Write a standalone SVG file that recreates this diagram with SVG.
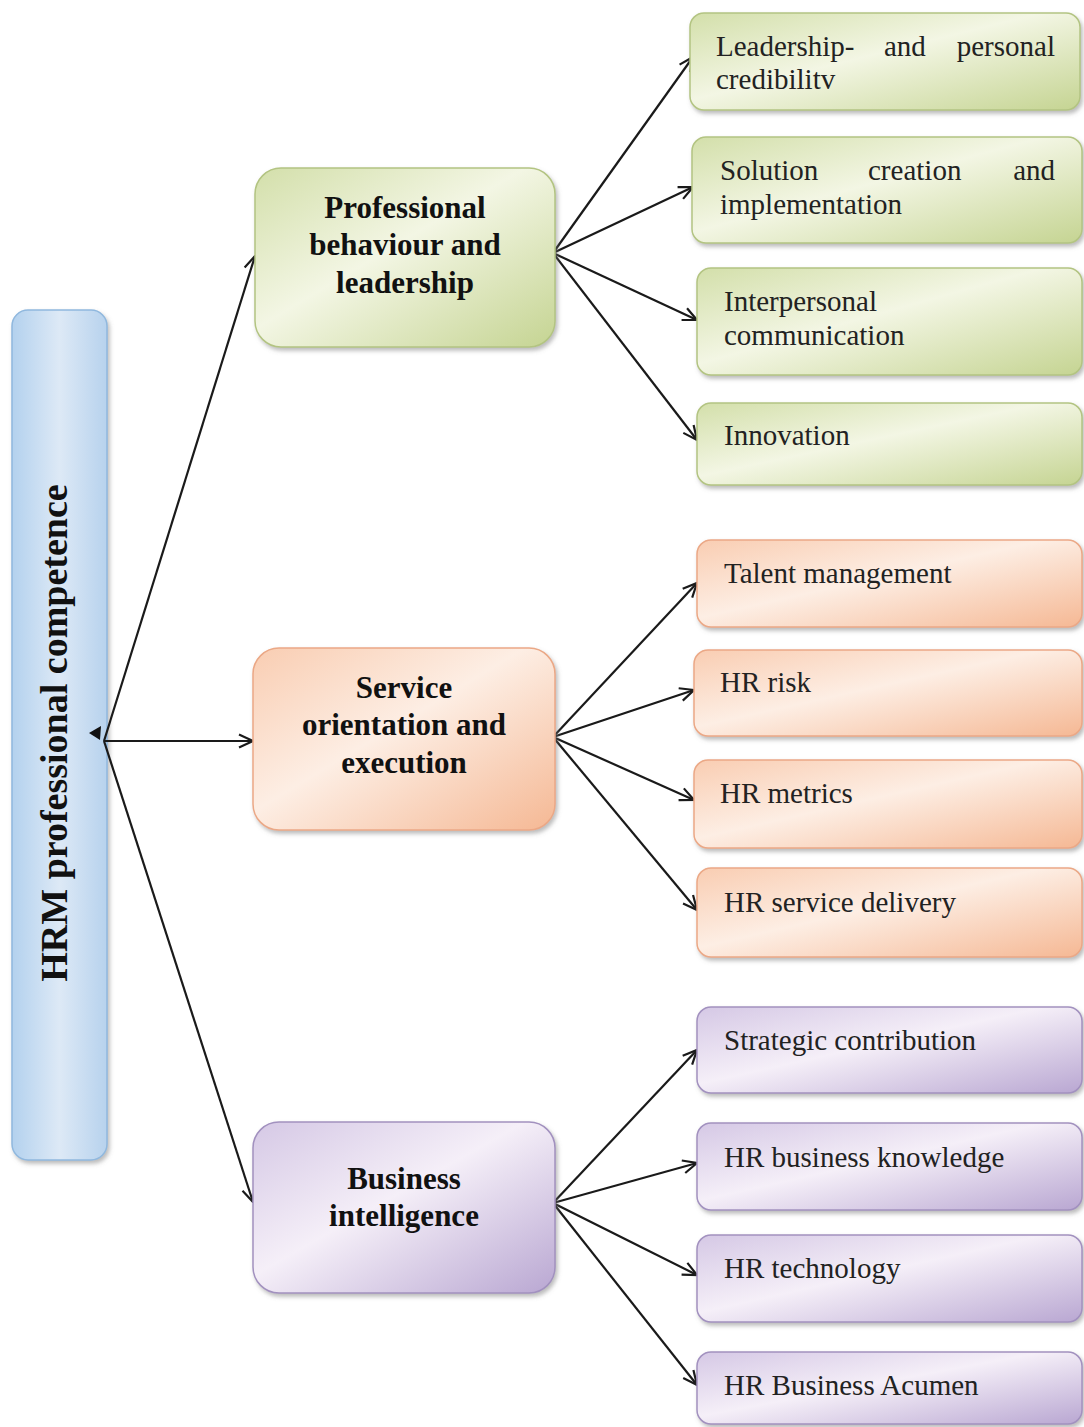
<svg xmlns="http://www.w3.org/2000/svg" width="1084" height="1427" viewBox="0 0 1084 1427">
<style>
.leaf{font-family:"Liberation Serif","Times New Roman",serif;font-size:29px;fill:#222}
.mid{font-family:"Liberation Serif","Times New Roman",serif;font-size:31px;font-weight:bold;fill:#111;text-anchor:middle}
.conn line{stroke:#1a1a1a;stroke-width:2.2;fill:none;marker-end:url(#arr)}
.g{fill:url(#gG);stroke:#b3c482;stroke-width:1.5;filter:url(#sh)}
.o{fill:url(#gO);stroke:#eba886;stroke-width:1.5;filter:url(#sh)}
.p{fill:url(#gP);stroke:#a291bf;stroke-width:1.5;filter:url(#sh)}
</style>
<defs>
<marker id="arr" viewBox="0 0 16 16" refX="15" refY="8" markerWidth="16" markerHeight="16" markerUnits="userSpaceOnUse" orient="auto">
<path d="M1,1.5 L15,8 L1,14.5" fill="none" stroke="#1a1a1a" stroke-width="2.2"/>
</marker>
<filter id="sh" x="-10%" y="-10%" width="120%" height="130%">
<feDropShadow dx="2" dy="3" stdDeviation="2" flood-color="#777" flood-opacity="0.5"/>
</filter>
<linearGradient id="gG" x1="0" y1="0" x2="1" y2="1">
<stop offset="0" stop-color="#d3dfaa"/><stop offset="0.45" stop-color="#f3f6e4"/><stop offset="1" stop-color="#c5d492"/>
</linearGradient>
<linearGradient id="gO" x1="0" y1="0" x2="1" y2="1">
<stop offset="0" stop-color="#f9cdb2"/><stop offset="0.45" stop-color="#fdeee4"/><stop offset="1" stop-color="#f5b894"/>
</linearGradient>
<linearGradient id="gP" x1="0" y1="0" x2="1" y2="1">
<stop offset="0" stop-color="#d5c8e5"/><stop offset="0.45" stop-color="#f5eff8"/><stop offset="1" stop-color="#b9a7d2"/>
</linearGradient>
<linearGradient id="gB" x1="0" y1="0" x2="1" y2="0">
<stop offset="0" stop-color="#b3d1ee"/><stop offset="0.5" stop-color="#dde9f6"/><stop offset="1" stop-color="#b7d2ed"/>
</linearGradient>
</defs>

<g id="root">
<rect x="12" y="310" width="95" height="850" rx="16" fill="url(#gB)" stroke="#90b8de" stroke-width="1.5" filter="url(#sh)"/>
<text transform="translate(67,733) rotate(-90)" font-family="Liberation Serif,Times New Roman,serif" font-size="38" font-weight="bold" fill="#111" text-anchor="middle">HRM professional competence</text>
<path d="M89,733 L101,726 L100,740 Z" fill="#111"/>
</g>

<g class="conn" id="connectors">
<line x1="104" y1="741" x2="255" y2="256"/>
<line x1="104" y1="741" x2="253" y2="741"/>
<line x1="104" y1="741" x2="253" y2="1202"/>
<line x1="553" y1="253" x2="693" y2="57"/>
<line x1="553" y1="253" x2="693" y2="187"/>
<line x1="553" y1="253" x2="697" y2="320"/>
<line x1="553" y1="253" x2="697" y2="440"/>
<line x1="553" y1="737" x2="697" y2="583"/>
<line x1="553" y1="737" x2="694" y2="690"/>
<line x1="553" y1="737" x2="694" y2="800"/>
<line x1="553" y1="737" x2="697" y2="910"/>
<line x1="553" y1="1203" x2="697" y2="1050"/>
<line x1="553" y1="1203" x2="697" y2="1163"/>
<line x1="553" y1="1203" x2="697" y2="1275"/>
<line x1="553" y1="1203" x2="697" y2="1385"/>
</g>

<g id="n-professional">
<rect class="g" x="255" y="168" width="300" height="179" rx="26"/>
<text class="mid" x="405" y="218">Professional</text>
<text class="mid" x="405" y="255">behaviour and</text>
<text class="mid" x="405" y="293">leadership</text>
</g>
<g id="n-service">
<rect class="o" x="253" y="648" width="302" height="182" rx="26"/>
<text class="mid" x="404" y="698">Service</text>
<text class="mid" x="404" y="735">orientation and</text>
<text class="mid" x="404" y="773">execution</text>
</g>
<g id="n-business">
<rect class="p" x="253" y="1122" width="302" height="171" rx="26"/>
<text class="mid" x="404" y="1189">Business</text>
<text class="mid" x="404" y="1226">intelligence</text>
</g>

<g id="n-leadership">
<rect class="g" x="690" y="13" width="390" height="97" rx="14"/>
<text class="leaf" x="716" y="56">Leadership-</text>
<text class="leaf" x="884" y="56">and</text>
<text class="leaf" x="1055" y="56" text-anchor="end">personal</text>
<text class="leaf" x="716" y="89">credibilitv</text>
</g>
<g id="n-solution">
<rect class="g" x="692" y="137" width="390" height="106" rx="14"/>
<text class="leaf" x="720" y="180">Solution</text>
<text class="leaf" x="868" y="180">creation</text>
<text class="leaf" x="1055" y="180" text-anchor="end">and</text>
<text class="leaf" x="720" y="214">implementation</text>
</g>
<g id="n-interpersonal">
<rect class="g" x="697" y="268" width="385" height="107" rx="14"/>
<text class="leaf" x="724" y="311">Interpersonal</text>
<text class="leaf" x="724" y="345">communication</text>
</g>
<g id="n-innovation">
<rect class="g" x="697" y="403" width="385" height="82" rx="14"/>
<text class="leaf" x="724" y="445">Innovation</text>
</g>

<g id="n-talent">
<rect class="o" x="697" y="540" width="385" height="87" rx="14"/>
<text class="leaf" x="724" y="583">Talent management</text>
</g>
<g id="n-risk">
<rect class="o" x="694" y="650" width="388" height="86" rx="14"/>
<text class="leaf" x="720" y="692">HR risk</text>
</g>
<g id="n-metrics">
<rect class="o" x="694" y="760" width="388" height="88" rx="14"/>
<text class="leaf" x="720" y="803">HR metrics</text>
</g>
<g id="n-delivery">
<rect class="o" x="697" y="868" width="385" height="89" rx="14"/>
<text class="leaf" x="724" y="912">HR service delivery</text>
</g>

<g id="n-strategic">
<rect class="p" x="697" y="1007" width="385" height="86" rx="14"/>
<text class="leaf" x="724" y="1050">Strategic contribution</text>
</g>
<g id="n-knowledge">
<rect class="p" x="697" y="1123" width="385" height="87" rx="14"/>
<text class="leaf" x="724" y="1167">HR business knowledge</text>
</g>
<g id="n-technology">
<rect class="p" x="697" y="1235" width="385" height="87" rx="14"/>
<text class="leaf" x="724" y="1278">HR technology</text>
</g>
<g id="n-acumen">
<rect class="p" x="697" y="1352" width="385" height="72" rx="14"/>
<text class="leaf" x="724" y="1395">HR Business Acumen</text>
</g>
</svg>
